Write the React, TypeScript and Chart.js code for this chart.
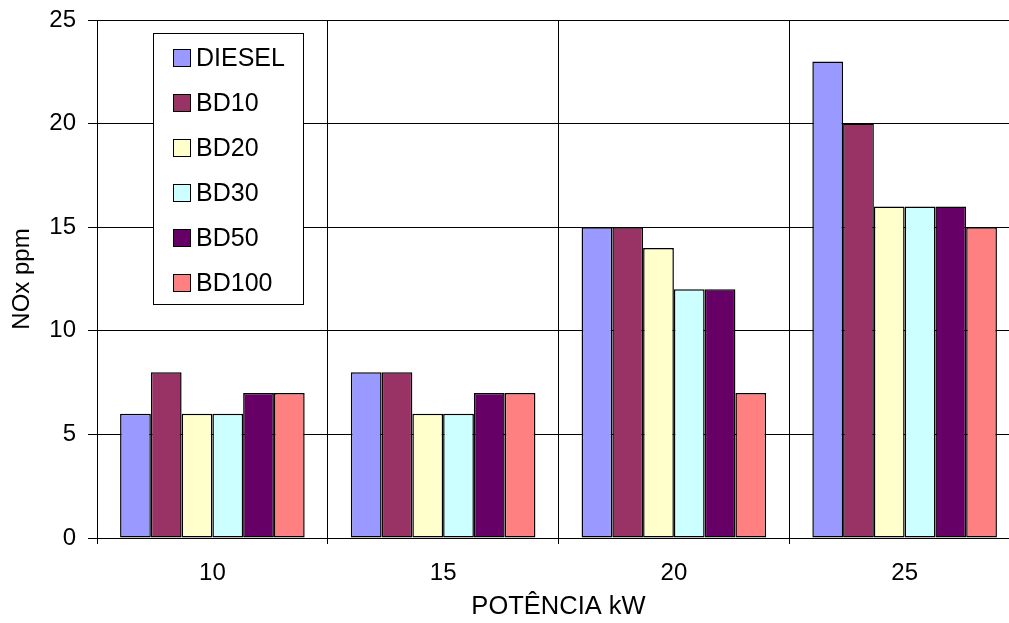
import React, { useEffect, useRef } from "react";
import { Chart, registerables } from "chart.js";

Chart.register(...registerables);

const categories = ["10", "15", "20", "25"];
const seriesNames = ["DIESEL", "BD10", "BD20", "BD30", "BD50", "BD100"];
const diesel = [6, 8, 15, 23];
const bd10 = [8, 8, 15, 20];
const bd20 = [6, 6, 14, 16];
const bd30 = [6, 6, 12, 16];
const bd50 = [7, 7, 12, 16];
const bd100 = [7, 7, 7, 15];
const seriesColors = ["#9999FF", "#993366", "#FFFFCC", "#CCFFFF", "#660066", "#FF8080"];
const yTicks = [0, 5, 10, 15, 20, 25];

const FONT = "'Liberation Sans', Arial, sans-serif";

const boxLegend = {
  id: "boxLegend",
  afterDraw(chart: any) {
    const ctx = chart.ctx;
    const left = 153.5, top = 33.5, w = 150, h = 271;
    ctx.save();
    ctx.fillStyle = "#fff";
    ctx.fillRect(left, top, w, h);
    ctx.strokeStyle = "#000";
    ctx.lineWidth = 1;
    ctx.strokeRect(left, top, w, h);
    ctx.font = `25px ${FONT}`;
    ctx.textBaseline = "middle";
    ctx.textAlign = "left";
    chart.data.datasets.forEach((ds: any, i: number) => {
      const cy = 58 + i * 45;
      ctx.fillStyle = ds.backgroundColor;
      ctx.fillRect(173.5, cy - 8.5, 17, 17);
      ctx.strokeStyle = "#000";
      ctx.strokeRect(173.5, cy - 8.5, 17, 17);
      ctx.fillStyle = "#000";
      ctx.fillText(ds.label, 196, cy + 1);
    });
    ctx.restore();
  },
};

export default function App() {
  const ref = useRef<HTMLCanvasElement>(null);
  useEffect(() => {
    document.body.style.margin = "0";
    document.body.style.overflow = "hidden";
    const values = [diesel, bd10, bd20, bd30, bd50, bd100];
    const chart = new Chart(ref.current!, {
      type: "bar",
      data: {
        labels: categories,
        datasets: seriesNames.map((name, i) => ({
          label: name,
          data: values[i],
          backgroundColor: seriesColors[i],
          borderColor: "#000",
          borderWidth: 1.5,
          borderSkipped: false,
          categoryPercentage: 0.8,
          barPercentage: 1.0,
        })),
      },
      options: {
        animation: false,
        responsive: false,
        devicePixelRatio: 1,
        layout: { padding: { top: 20, right: 1, left: 0, bottom: 0 } },
        plugins: { legend: { display: false }, tooltip: { enabled: false } },
        scales: {
          x: {
            offset: true,
            grid: { offset: true, color: "#000", lineWidth: 1, tickLength: 6, drawTicks: true },
            border: { display: true, color: "#000", width: 1 },
            ticks: { color: "#000", font: { family: FONT, size: 24 }, padding: 15, maxRotation: 0 },
            title: { display: true, text: "POTÊNCIA kW", color: "#000", font: { family: FONT, size: 25.5 }, padding: { top: 0, bottom: 1 } },
            afterFit: (s: any) => { s.height = 85; s.paddingLeft = 0; s.paddingRight = 0; },
          },
          y: {
            min: 0,
            max: 25,
            afterBuildTicks: (s: any) => { s.ticks = yTicks.map((v) => ({ value: v })); },
            grid: { color: "#000", lineWidth: 1, tickLength: 9, drawTicks: true },
            border: { display: true, color: "#000", width: 1 },
            ticks: { color: "#000", font: { family: FONT, size: 24 }, padding: 12 },
            title: { display: true, text: "NOx ppm", color: "#000", font: { family: FONT, size: 24 }, padding: { top: 8, bottom: 0 } },
            afterFit: (s: any) => { s.width = 97; s.paddingTop = 0; s.paddingBottom = 0; },
          },
        },
      },
      plugins: [boxLegend],
    });
    return () => chart.destroy();
  }, []);
  return (
    <div style={{ width: 1021, height: 623 }}>
      <canvas ref={ref} width={1021} height={623} style={{ display: "block", width: 1021, height: 623 }} />
    </div>
  );
}
